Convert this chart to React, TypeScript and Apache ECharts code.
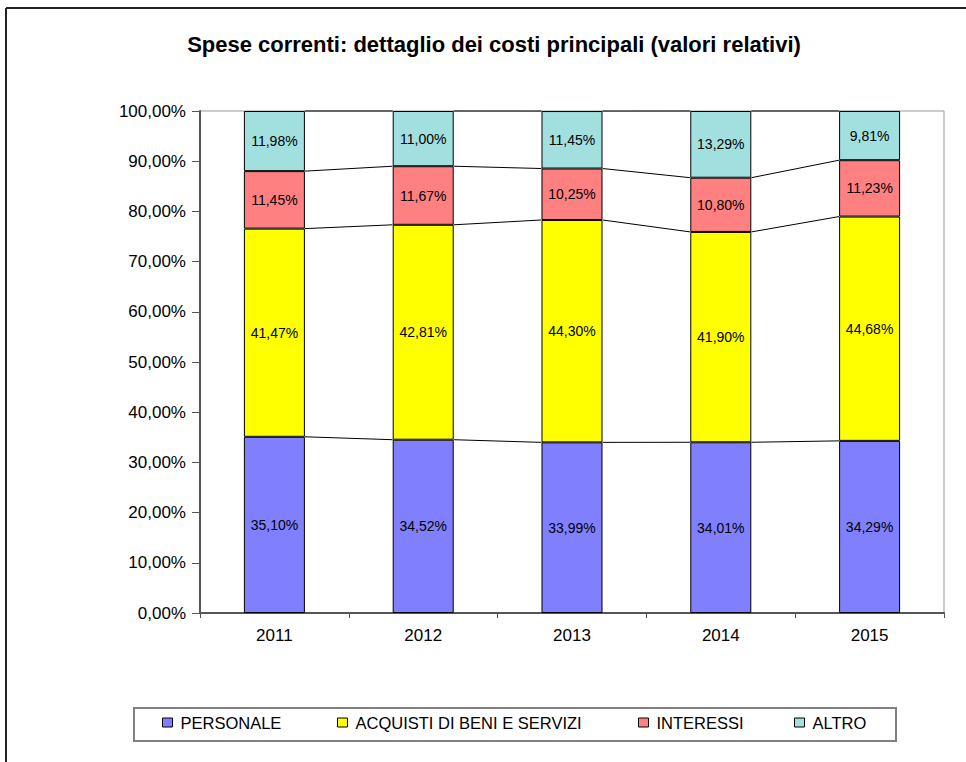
import React, { useEffect, useRef } from "react";
import * as echarts from "echarts";

const categories = ["2011", "2012", "2013", "2014", "2015"];
const seriesNames = ["PERSONALE", "ACQUISTI DI BENI E SERVIZI", "INTERESSI", "ALTRO"];
const personale = [35.1, 34.52, 33.99, 34.01, 34.29];
const acquisti = [41.47, 42.81, 44.3, 41.9, 44.68];
const interessi = [11.45, 11.67, 10.25, 10.8, 11.23];
const altro = [11.98, 11.0, 11.45, 13.29, 9.81];
const seriesColors = ["#8080FF", "#FFFF00", "#FF8080", "#A2E0E0"];
const titleText = "Spese correnti: dettaglio dei costi principali (valori relativi)";

const FONT = "'Liberation Sans', Arial, Helvetica, sans-serif";
const BAR_FRAC = 0.41;

const fmt = (v: number) => v.toFixed(2).replace(".", ",") + "%";

export default function App() {
  const ref = useRef<HTMLDivElement>(null);
  useEffect(() => {
    if (!ref.current) return;
    const chart = echarts.init(ref.current, undefined, { renderer: "svg" });
    const allSeries = [personale, acquisti, interessi, altro];

    // cumulative tops for series lines
    const cum: number[][] = [];
    allSeries.forEach((arr, k) => {
      cum.push(arr.map((v, i) => (k > 0 ? cum[k - 1][i] : 0) + v));
    });
    const lineData: number[][] = [];
    cum.forEach((levels) => {
      for (let i = 0; i < categories.length - 1; i++) {
        lineData.push([i, Math.min(levels[i], 100), Math.min(levels[i + 1], 100)]);
      }
    });

    const legendLefts = [162, 337, 638, 794];

    const option: any = {
      animation: false,
      backgroundColor: "#fff",
      graphic: [
        {
          type: "line",
          shape: { x1: 6, y1: 8, x2: 966, y2: 8 },
          style: { stroke: "#222", lineWidth: 2 },
        },
        {
          type: "line",
          shape: { x1: 6, y1: 8, x2: 6, y2: 762 },
          style: { stroke: "#222", lineWidth: 2 },
        },
        {
          type: "text",
          x: 494,
          y: 44,
          style: {
            text: titleText,
            align: "center",
            verticalAlign: "middle",
            fontSize: 22,
            fontWeight: "bold",
            fontFamily: FONT,
            fill: "#000",
          },
        },
        {
          type: "rect",
          shape: { x: 134, y: 708, width: 762, height: 33 },
          style: { fill: "none", stroke: "#808080", lineWidth: 2 },
          z: -1,
        },
      ],
      legend: seriesNames.map((n, k) => ({
        data: [n],
        left: legendLefts[k],
        top: 714,
        padding: 0,
        itemWidth: 10,
        itemHeight: 9,
        icon: "rect",
        itemStyle: { borderColor: "#000", borderWidth: 1 },
        textStyle: { fontSize: 16.5, fontFamily: FONT, color: "#000", padding: [0, 0, 0, 3] },
        selectedMode: false,
      })),
      grid: {
        left: 200,
        top: 111,
        right: 22,
        bottom: 149,
        show: true,
        borderColor: "#999",
        borderWidth: 1,
      },
      xAxis: {
        type: "category",
        data: categories,
        axisLine: { lineStyle: { color: "#555", width: 2 } },
        axisTick: { show: true, length: 5, lineStyle: { color: "#555" } },
        axisLabel: { fontSize: 17, fontFamily: FONT, color: "#000", margin: 14 },
      },
      yAxis: {
        type: "value",
        min: 0,
        max: 100,
        interval: 10,
        axisLine: { show: true, lineStyle: { color: "#555", width: 2 } },
        axisTick: { show: true, length: 8, lineStyle: { color: "#555" } },
        splitLine: { show: false },
        axisLabel: {
          fontSize: 17,
          fontFamily: FONT,
          color: "#000",
          margin: 14,
          formatter: (v: number) => fmt(v),
        },
      },
      series: [
        ...allSeries.map((arr, k) => ({
          name: seriesNames[k],
          type: "bar",
          stack: "tot",
          barWidth: BAR_FRAC * 100 + "%",
          data: arr,
          itemStyle: { color: seriesColors[k], borderColor: "#000", borderWidth: 1 },
          label: {
            show: true,
            position: "inside",
            color: "#000",
            fontSize: 14,
            fontFamily: FONT,
            formatter: (p: any) => fmt(p.value),
          },
        })),
        {
          type: "custom",
          silent: true,
          clip: false,
          encode: { x: 0, y: 1 },
          data: lineData,
          renderItem: (params: any, api: any) => {
            const i = api.value(0);
            const v1 = api.value(1);
            const v2 = api.value(2);
            const p1 = api.coord([i, v1]);
            const p2 = api.coord([i + 1, v2]);
            const half = (api.size([1, 0])[0] * BAR_FRAC) / 2;
            return {
              type: "line",
              shape: { x1: p1[0] + half, y1: p1[1], x2: p2[0] - half, y2: p2[1] },
              style: { stroke: "#000", lineWidth: 1 },
            };
          },
          z: 5,
        },
      ],
    };
    chart.setOption(option);
    return () => chart.dispose();
  }, []);
  return (
    <div
      ref={ref}
      style={{ position: "fixed", left: 0, top: 0, width: 966, height: 762, background: "#fff" }}
    />
  );
}
